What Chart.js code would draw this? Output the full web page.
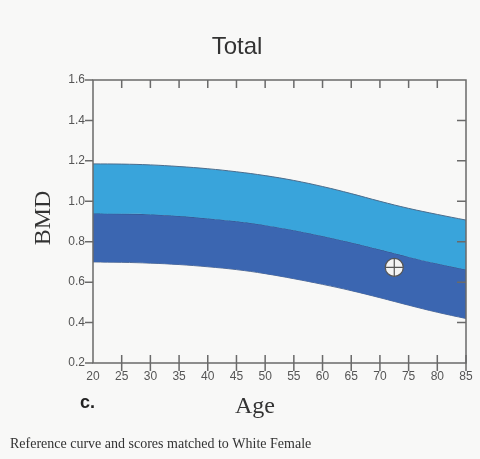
<!DOCTYPE html>
<html>
<head>
<meta charset="utf-8">
<script src="https://cdn.jsdelivr.net/npm/chart.js@4/dist/chart.umd.min.js"></script>
<style>
  body { margin: 0; background: #f8f8f7; }
  #wrap { width: 480px; height: 459px; }
</style>
</head>
<body>
<div id="wrap"><canvas id="myChart" width="480" height="459"></canvas></div>
<script>
// reference curve (BMD by age)
const ages = [20, 25, 30, 35, 40, 45, 50, 55, 60, 65, 70, 75, 80, 85];
const upperCurve = [1.185, 1.184, 1.180, 1.172, 1.161, 1.146, 1.127, 1.103, 1.073, 1.038, 1.0, 0.965, 0.935, 0.907];
const middleCurve = [0.94, 0.938, 0.935, 0.927, 0.915, 0.901, 0.882, 0.857, 0.828, 0.796, 0.761, 0.725, 0.692, 0.662];
const lowerCurve = [0.70, 0.698, 0.694, 0.687, 0.676, 0.662, 0.642, 0.617, 0.589, 0.558, 0.523, 0.486, 0.451, 0.42];
// patient score
const patientAge = [72.5];
const patientBmd = [0.673];

const xTicks = [20, 25, 30, 35, 40, 45, 50, 55, 60, 65, 70, 75, 80, 85];
const yTicks = [0.2, 0.4, 0.6, 0.8, 1.0, 1.2, 1.4, 1.6];

function pts(ys) {
  return ages.map((a, i) => ({ x: a, y: ys[i] }));
}

const frame = {
  id: "frame",
  afterDraw(chart) {
    const ctx = chart.ctx;
    const a = chart.chartArea;
    const xs = chart.scales.x, ys = chart.scales.y;
    ctx.save();
    ctx.strokeStyle = "#6a6a6a";
    ctx.lineWidth = 1.5;
    ctx.strokeRect(a.left, a.top, a.right - a.left, a.bottom - a.top);
    ctx.beginPath();
    xTicks.forEach(v => {
      if (v === 20) return;
      const px = xs.getPixelForValue(v);
      ctx.moveTo(px, a.bottom - 8); ctx.lineTo(px, a.bottom + 8);
      if (v !== 85) { ctx.moveTo(px, a.top); ctx.lineTo(px, a.top + 8); }
    });
    yTicks.forEach(v => {
      const py = ys.getPixelForValue(v);
      ctx.moveTo(a.left - 8, py); ctx.lineTo(a.left, py);
      if (v > 0.2 && v < 1.6) { ctx.moveTo(a.right - 9, py); ctx.lineTo(a.right, py); }
    });
    ctx.stroke();

    ctx.fillStyle = "#333";
    ctx.textAlign = "center";
    ctx.textBaseline = "alphabetic";
    ctx.font = "24px 'Liberation Sans', Arial, sans-serif";
    ctx.fillText("Total", 237, 54);
    ctx.font = "24px 'Liberation Serif', 'Times New Roman', serif";
    ctx.fillText("Age", 255, 413);
    ctx.save();
    ctx.translate(50, 218);
    ctx.rotate(-Math.PI / 2);
    ctx.fillText("BMD", 0, 0);
    ctx.restore();
    ctx.textAlign = "left";
    ctx.font = "bold 18px 'Liberation Sans', Arial, sans-serif";
    ctx.fillStyle = "#222";
    ctx.fillText("c.", 80, 408);
    ctx.font = "14px 'Liberation Serif', 'Times New Roman', serif";
    ctx.fillStyle = "#333";
    ctx.fillText("Reference curve and scores matched to White Female", 10, 448);
    ctx.restore();
  }
};

const ctx = document.getElementById("myChart").getContext("2d");
const chart = new Chart(ctx, {
  type: "line",
  data: {
    datasets: [
      {
        data: pts(upperCurve), fill: "+1", backgroundColor: "#39a4db",
        borderColor: "#4b6c8c", borderWidth: 1, pointRadius: 0,
        tension: 0.4, order: 3
      },
      {
        data: pts(middleCurve), fill: "+1", backgroundColor: "#3b66b1",
        borderColor: "#34558a", borderWidth: 1, pointRadius: 0,
        tension: 0.4, order: 3
      },
      {
        data: pts(lowerCurve), fill: false,
        borderColor: "#5a6f90", borderWidth: 1, pointRadius: 0,
        tension: 0.4, order: 3
      },
      {
        data: patientAge.map((a, i) => ({ x: a, y: patientBmd[i] })),
        showLine: false, pointRadius: 9, pointBackgroundColor: "#f3f3f3",
        pointBorderColor: "#555", pointBorderWidth: 1.2, order: 1
      },
      {
        data: patientAge.map((a, i) => ({ x: a, y: patientBmd[i] })),
        showLine: false, pointStyle: "cross", pointRadius: 9,
        pointBorderColor: "#555", pointBorderWidth: 1.2, order: 0
      }
    ]
  },
  options: {
    responsive: false,
    animation: false,
    layout: { padding: { top: 80, right: 14, left: 0, bottom: 0 } },
    plugins: { legend: { display: false }, tooltip: { enabled: false } },
    scales: {
      x: {
        type: "linear", min: 20, max: 85,
        afterFit: s => { s.height = 96; },
        afterBuildTicks: s => { s.ticks = xTicks.map(v => ({ value: v })); },
        grid: { display: false, drawTicks: false },
        border: { display: false },
        ticks: { padding: 6, color: "#555", font: { size: 12, family: "'Liberation Sans', Arial" } }
      },
      y: {
        min: 0.2, max: 1.6,
        afterFit: s => { s.width = 93; },
        afterBuildTicks: s => { s.ticks = yTicks.map(v => ({ value: v })); },
        grid: { display: false, drawTicks: false },
        border: { display: false },
        ticks: {
          padding: 8, color: "#555", font: { size: 12, family: "'Liberation Sans', Arial" },
          callback: v => v.toFixed(1)
        }
      }
    }
  },
  plugins: [frame]
});
</script>
</body>
</html>
